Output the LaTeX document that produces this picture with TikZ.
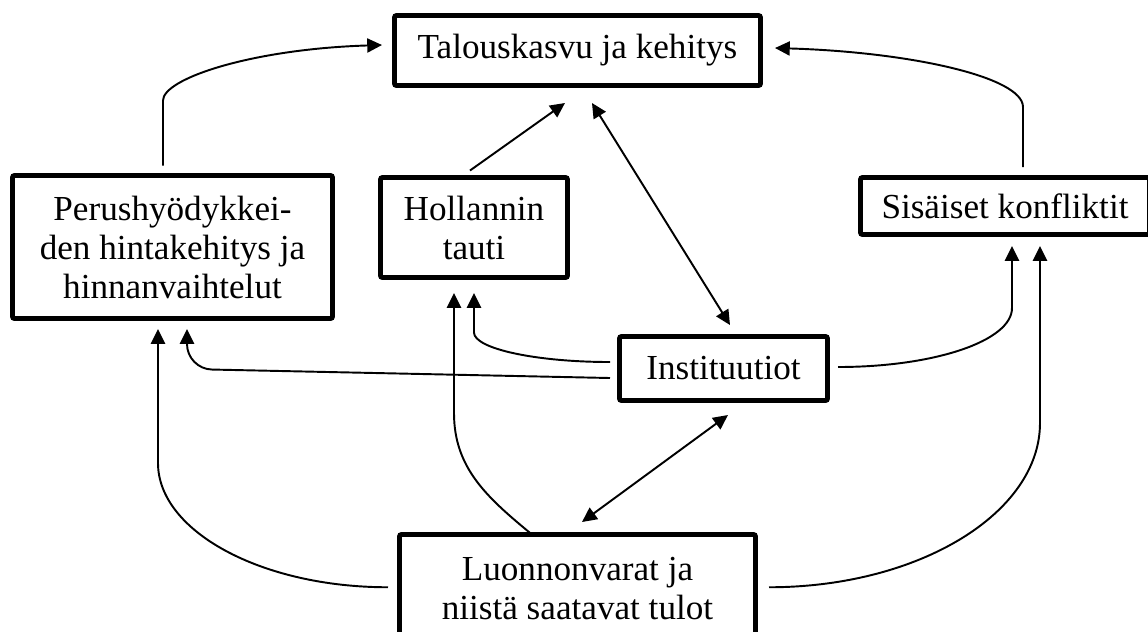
\documentclass[tikz,border=0pt]{standalone}
\usepackage{fontspec}
\setmainfont{Liberation Serif}
\usepackage{tikz}
\usetikzlibrary{positioning,calc,arrows.meta}
\tikzset{
  % --- boxes ---
  kbox/.style={draw=black, line width=1.4pt, rounded corners=0.6pt, align=center,
               fill=white, inner sep=0pt, outer sep=0pt,
               font=\fontsize{10}{11.1}\selectfont},
  % --- connectors ---
  kflow/.style={line width=0.55pt, -{Triangle[length=4.2pt,width=4pt]}},
  kboth/.style={line width=0.55pt,
                {Triangle[length=4.2pt,width=4pt]}-{Triangle[length=4.2pt,width=4pt]}},
}
\begin{document}
\begin{tikzpicture}
  \useasboundingbox (0,0) rectangle (11.48,-6.31);

  % --- boxes ---
  \node[kbox, minimum width=3.66cm, minimum height=7mm]    (talous)   at (5.775,-0.505) {Talouskasvu ja kehitys};
  \node[kbox, minimum width=3.20cm, minimum height=14.3mm] (perus)    at (1.725,-2.47)  {Perushyödykkei-\\den hintakehitys ja\\hinnanvaihtelut};
  \node[kbox, minimum width=1.87cm, minimum height=10mm]   (hollanti) at (4.74,-2.275)  {Hollannin\\tauti};
  \node[kbox, minimum width=2.89cm, minimum height=5.7mm]  (konfl)    at (10.05,-2.06)  {Sisäiset konfliktit};
  \node[kbox, minimum width=2.08cm, minimum height=6.4mm]  (inst)     at (7.235,-3.685) {Instituutiot};
  \node[kbox, minimum width=3.56cm, minimum height=10.75mm] (luonto)  at (5.775,-5.8825) {Luonnonvarat ja\\niistä saatavat tulot};

  % --- into Talouskasvu ---
  \draw[kflow] ([xshift=-0.95mm,yshift=1mm]perus.north) -- ++(0,0.65)
        .. controls +(0,0.22) and +(-1.3,-0.04) .. ([xshift=-1.25mm,yshift=0.55mm]talous.west);
  \draw[kflow] ([xshift=-0.4mm,yshift=0.7mm]hollanti.north) -- ([xshift=-1.25mm,yshift=-1.75mm]talous.south);
  \draw[kboth] ([xshift=1.45mm,yshift=-1.75mm]talous.south) -- ([xshift=0.65mm,yshift=1.15mm]inst.north);
  \draw[kflow] ([xshift=1.8mm,yshift=1.05mm]konfl.north) -- ++(0,0.6)
        .. controls +(0,0.3) and +(1.35,-0.04) .. ([xshift=1.45mm,yshift=0.25mm]talous.east);

  % --- out of Instituutiot ---
  \draw[kflow] ([xshift=-0.95mm,yshift=0.65mm]inst.west)
        .. controls +(-0.75,0) and +(0,-0.16) .. ([yshift=-5.5mm]hollanti.south)
        -- ([yshift=-1.55mm]hollanti.south);
  \draw[kflow, rounded corners=2.5mm] ([xshift=-0.95mm,yshift=-0.95mm]inst.west) -- ++(-4.23,0.09)
        -- ([xshift=1.45mm,yshift=-1.05mm]perus.south);
  \draw[kflow] ([xshift=1.05mm,yshift=0.15mm]inst.east)
        .. controls +(0.96,0) and +(0,-0.33) .. ([xshift=0.7mm,yshift=-7.35mm]konfl.south)
        -- ([xshift=0.7mm,yshift=-1.15mm]konfl.south);

  % --- out of Luonnonvarat ---
  \draw[kflow] ([xshift=-1.15mm,yshift=0.1mm]luonto.west)
        .. controls +(-1.27,0) and +(0,-0.68) .. ([xshift=-1.45mm,yshift=-14.45mm]perus.south)
        -- ([xshift=-1.45mm,yshift=-1.05mm]perus.south);
  \draw[kflow] ([xshift=-4.55mm]luonto.north)
        .. controls +(-0.45,0.37) and +(0,-0.55) .. ([xshift=-2mm,yshift=-13.55mm]hollanti.south)
        -- ([xshift=-2mm,yshift=-1.55mm]hollanti.south);
  \draw[kflow] ([xshift=1.35mm,yshift=0.1mm]luonto.east)
        .. controls +(1.5,0) and +(0,-0.9) .. ([xshift=3.5mm,yshift=-18.85mm]konfl.south)
        -- ([xshift=3.5mm,yshift=-1.15mm]konfl.south);
  \draw[kboth] ([xshift=0.45mm,yshift=1.25mm]luonto.north) -- ([xshift=0.45mm,yshift=-1.45mm]inst.south);
\end{tikzpicture}
\end{document}
